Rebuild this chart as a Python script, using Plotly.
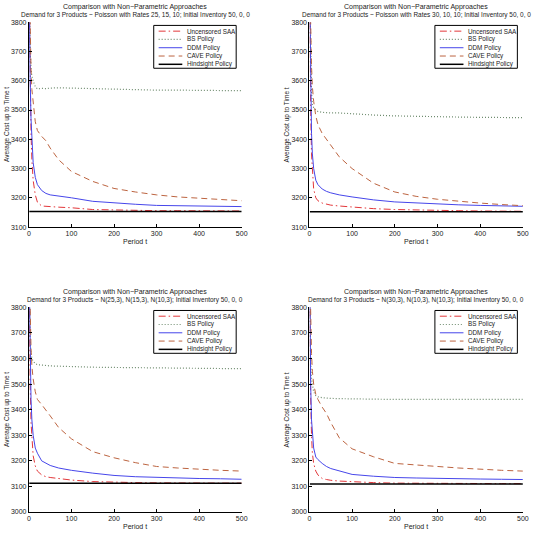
import plotly.graph_objects as go

W, H = 541, 540

# ---------------- data ----------------
t = [1, 2, 3, 5, 7, 10, 15, 20, 30, 40, 50, 70, 100, 150, 200, 250, 300, 350, 400, 450, 500]

series_names = ["Uncensored SAA", "BS Policy", "DDM Policy", "CAVE Policy", "Hindsight Policy"]

# Panel 1: Poisson 25, 15, 10
p1_saa  = [3900, 3750, 3600, 3420, 3330, 3260, 3210, 3185, 3172, 3170, 3170, 3168, 3166, 3160, 3158, 3157, 3156, 3156, 3155, 3155, 3155]
p1_bs   = [3900, 3780, 3700, 3640, 3615, 3600, 3580, 3572, 3574, 3573, 3575, 3576, 3575, 3572, 3570, 3570, 3568, 3568, 3567, 3567, 3566]
p1_ddm  = [3900, 3700, 3600, 3470, 3390, 3320, 3270, 3245, 3225, 3215, 3210, 3205, 3200, 3188, 3182, 3178, 3174, 3173, 3172, 3171, 3170]
p1_cave = [3950, 3850, 3750, 3640, 3570, 3520, 3460, 3430, 3410, 3395, 3370, 3330, 3290, 3256, 3232, 3220, 3210, 3203, 3198, 3194, 3190]
p1_hind = 3153

# Panel 2: Poisson 30, 10, 10
p2_saa  = [3900, 3650, 3500, 3350, 3280, 3230, 3200, 3190, 3182, 3178, 3175, 3172, 3168, 3163, 3160, 3158, 3157, 3156, 3155, 3155, 3154]
p2_bs   = [3900, 3750, 3650, 3560, 3520, 3508, 3500, 3495, 3492, 3490, 3490, 3490, 3487, 3483, 3480, 3478, 3477, 3476, 3475, 3474, 3474]
p2_ddm  = [3900, 3700, 3560, 3420, 3350, 3300, 3260, 3245, 3230, 3222, 3217, 3210, 3203, 3193, 3186, 3182, 3178, 3176, 3174, 3172, 3171]
p2_cave = [3950, 3850, 3760, 3650, 3580, 3530, 3480, 3450, 3420, 3400, 3380, 3340, 3300, 3250, 3220, 3205, 3195, 3188, 3182, 3177, 3173]
p2_hind = 3152

# Panel 3: N(25,3), N(15,3), N(10,3)
p3_saa  = [3900, 3650, 3500, 3350, 3270, 3220, 3180, 3160, 3145, 3138, 3135, 3130, 3125, 3119, 3116, 3115, 3114, 3113, 3113, 3113, 3113]
p3_bs   = [3900, 3750, 3680, 3620, 3600, 3590, 3580, 3576, 3574, 3572, 3571, 3570, 3568, 3566, 3565, 3564, 3563, 3562, 3562, 3561, 3560]
p3_ddm  = [3900, 3700, 3580, 3440, 3360, 3300, 3250, 3230, 3200, 3190, 3182, 3172, 3163, 3152, 3143, 3138, 3135, 3133, 3131, 3130, 3128]
p3_cave = [3950, 3850, 3750, 3640, 3570, 3520, 3470, 3440, 3420, 3400, 3376, 3330, 3286, 3236, 3212, 3193, 3178, 3172, 3167, 3163, 3160]
p3_hind = 3112

# Panel 4: N(30,3), N(10,3), N(10,3)
p4_saa  = [3900, 3600, 3450, 3300, 3230, 3190, 3160, 3145, 3131, 3127, 3124, 3121, 3118, 3115, 3113, 3112, 3112, 3111, 3111, 3111, 3111]
p4_bs   = [3900, 3700, 3600, 3520, 3490, 3470, 3455, 3450, 3447, 3445, 3444, 3443, 3442, 3441, 3440, 3440, 3440, 3440, 3440, 3440, 3440]
p4_ddm  = [3900, 3650, 3500, 3360, 3300, 3250, 3215, 3205, 3190, 3178, 3170, 3160, 3147, 3140, 3135, 3133, 3131, 3130, 3129, 3128, 3127]
p4_cave = [3950, 3850, 3740, 3620, 3550, 3500, 3460, 3440, 3410, 3385, 3350, 3290, 3247, 3216, 3190, 3183, 3178, 3172, 3167, 3163, 3160]
p4_hind = 3110

titles_line1 = ["Comparison with Non\u2212Parametric Approaches"] * 4
titles_line2 = [
    "Demand for 3 Products ~ Poisson with Rates 25, 15, 10; Initial Inventory 50, 0, 0",
    "Demand for 3 Products ~ Poisson with Rates 30, 10, 10; Initial Inventory 50, 0, 0",
    "Demand for 3 Products ~ N(25,3), N(15,3), N(10,3); Initial Inventory 50, 0, 0",
    "Demand for 3 Products ~ N(30,3), N(10,3), N(10,3); Initial Inventory 50, 0, 0",
]
y_ranges = [[3100, 3800], [3100, 3800], [3000, 3800], [3000, 3800]]
x_ticks = [0, 100, 200, 300, 400, 500]
x_title = "Period t"
y_title = "Average Cost up to Time t"

panels = [
    (p1_saa, p1_bs, p1_ddm, p1_cave, p1_hind),
    (p2_saa, p2_bs, p2_ddm, p2_cave, p2_hind),
    (p3_saa, p3_bs, p3_ddm, p3_cave, p3_hind),
    (p4_saa, p4_bs, p4_ddm, p4_cave, p4_hind),
]

# ---------------- styles / layout ----------------
colors = ["#e2373a", "#6f8c6f", "#4646ea", "#bc6440", "#000000"]
dashes = ["7px,3px,1.5px,3px", "1px,2px", "solid", "6px,4px", "solid"]
widths = [1, 1.2, 1, 1, 1.5]
FONT = "Liberation Sans, Arial, sans-serif"
TXT = "#222222"

# pixel boxes of the four plot areas: (left, right, top, bottom)
boxes = [
    (27.3, 243.3, 18.5, 226.0),
    (312.0, 528.7, 18.5, 226.0),
    (27.3, 243.3, 307.3, 514.7),
    (312.0, 528.7, 307.3, 514.7),
]

def px(x):
    return x / W

def py(y):
    return 1 - y / H

fig = go.Figure()
layout = dict(
    width=W, height=H, margin=dict(l=0, r=0, t=0, b=0),
    paper_bgcolor="white", plot_bgcolor="white", showlegend=False,
    font=dict(family=FONT, size=7, color=TXT),
)
annotations = []
shapes = []

def note(text, x, y, size, xanchor="center", angle=0):
    annotations.append(dict(text=text, x=px(x), y=py(y), xref="paper", yref="paper",
                            showarrow=False, xanchor=xanchor, yanchor="middle", textangle=angle,
                            font=dict(family=FONT, size=size, color=TXT)))

for i, (vals, box) in enumerate(zip(panels, boxes)):
    n = "" if i == 0 else str(i + 1)
    xa, ya = "x" + n, "y" + n
    L, R, T, B = box
    saa, bs, ddm, cave, hind = vals
    ys = [saa, bs, ddm, cave, [hind] * len(t)]
    for k in range(5):
        fig.add_trace(go.Scatter(
            x=t, y=ys[k], mode="lines", name=series_names[k],
            line=dict(color=colors[k], dash=dashes[k], width=widths[k]),
            xaxis=xa, yaxis=ya, hoverinfo="skip",
        ))
    axis_common = dict(
        showgrid=False, zeroline=False, showline=True, linecolor="black", linewidth=1,
        ticks="inside", ticklen=3, tickcolor="black", mirror=False,
        tickfont=dict(family=FONT, size=7, color=TXT),
    )
    layout["xaxis" + n] = dict(
        domain=[px(L), px(R)], range=[0, 500], tickvals=x_ticks, anchor=ya, **axis_common)
    layout["yaxis" + n] = dict(
        domain=[py(B), py(T)], range=y_ranges[i], dtick=100, anchor=xa, **axis_common)

    cx = (L + R) / 2
    note(titles_line1[i], cx, T - 15.2, 7.0)
    note(titles_line2[i], cx, T - 7.8, 6.45)
    note(x_title, cx, B + 14.5, 7.0)
    note(y_title, L - 23, (T + B) / 2, 6.5, angle=-90)

    # legend box (NorthEast)
    bx1 = R - 5.6
    bx0 = bx1 - 83.7
    by0 = T + 3.2
    by1 = by0 + 43.4
    shapes.append(dict(type="rect", xref="paper", yref="paper",
                       x0=px(bx0), x1=px(bx1), y0=py(by1), y1=py(by0),
                       line=dict(color="black", width=1), fillcolor="white", layer="above"))
    for k in range(5):
        yy = by0 + 5.8 + 8.4 * k
        shapes.append(dict(type="line", xref="paper", yref="paper",
                           x0=px(bx0 + 5), x1=px(bx0 + 29), y0=py(yy), y1=py(yy),
                           line=dict(color=colors[k], dash=dashes[k], width=widths[k]), layer="above"))
        note(series_names[k], bx0 + 32, yy, 6.3, xanchor="left")

layout["annotations"] = annotations
layout["shapes"] = shapes
fig.update_layout(**layout)
fig.write_html("out.html")
